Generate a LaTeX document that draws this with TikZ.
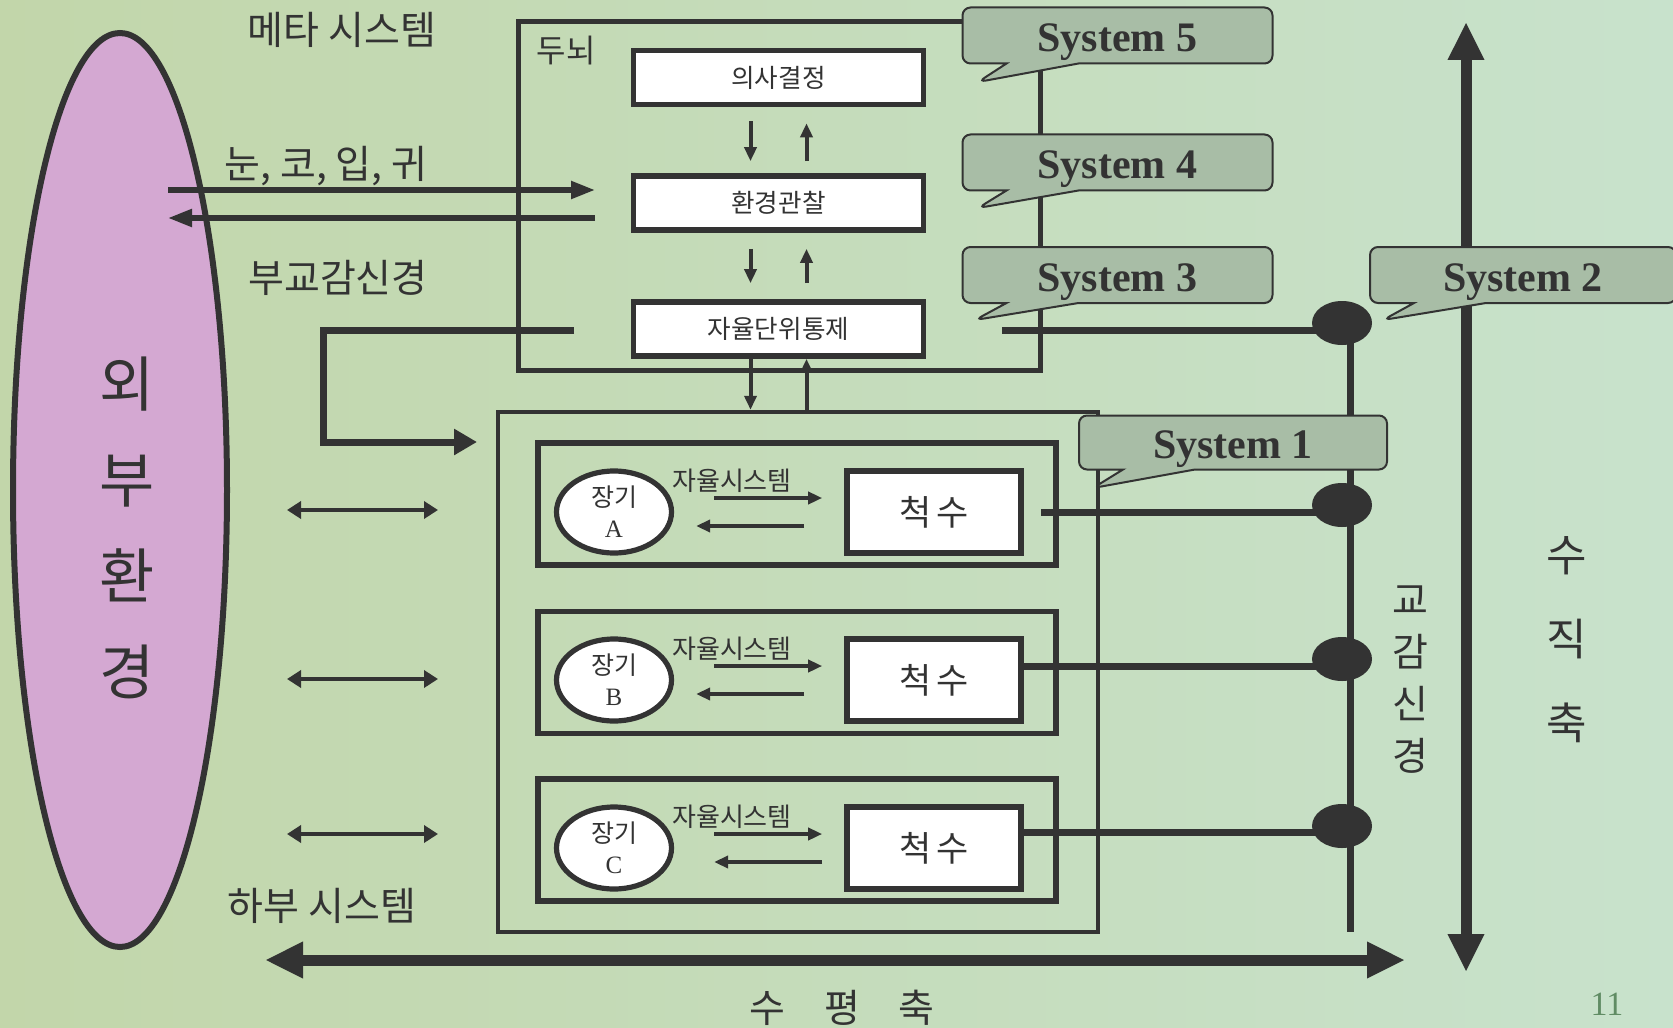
\documentclass[tikz,border=0pt]{standalone}
\usepackage{fontspec}
\setmainfont{Liberation Serif}
\newfontfamily\kr{Noto Sans CJK KR}
\usetikzlibrary{arrows.meta,shapes.geometric,shapes.callouts}
\definecolor{ink}{RGB}{51,51,51}
\definecolor{bgleft}{RGB}{194,214,170}
\definecolor{bgmid}{RGB}{182,216,182}
\definecolor{bgright}{RGB}{200,226,204}
\definecolor{lilac}{RGB}{212,168,210}
\definecolor{sage}{RGB}{168,189,166}
\definecolor{pagenum}{RGB}{96,140,100}

\begin{document}
\begin{tikzpicture}[
    x=0.5pt,
    y=-0.5pt,
    font=\kr,
    frame/.style={draw=ink, line width=2.5pt, inner sep=0pt},
    wbox/.style={draw=ink, line width=2.8pt, fill=white, inner sep=0pt,
        minimum width=145pt, minimum height=27pt, text=ink,
        font=\kr\fontsize{12.8}{14}\selectfont},
    subbox/.style={draw=ink, line width=2.8pt, inner sep=0pt,
        minimum width=259pt, minimum height=61pt},
    organ/.style={ellipse, draw=ink, line width=2.6pt, fill=white, inner sep=0pt,
        minimum width=57.5pt, minimum height=41pt, align=center, text=ink,
        font=\fontsize{12.5}{15.5}\selectfont},
    spine/.style={draw=ink, line width=2.8pt, fill=white, inner sep=0pt,
        minimum width=87pt, minimum height=41pt, text=ink,
        font=\kr\fontsize{17.5}{20}\selectfont},
    dot/.style={ellipse, fill=ink, inner sep=0pt, minimum width=30pt, minimum height=22pt},
    sysbox/.style={rectangle callout, draw=ink, line width=1pt, fill=sage,
        rounded corners=4pt, minimum width=155pt, minimum height=28pt, inner sep=0pt,
        text height=16pt, text depth=0pt,
        callout pointer width=36pt, text=ink, font=\bfseries\fontsize{21}{24}\selectfont},
    txt/.style={text=ink, inner sep=0pt, font=\kr\fontsize{19.5}{22}\selectfont},
    bus/.style={draw=ink, line width=3.5pt},
    axis/.style={draw=ink, line width=5.5pt,
        arrows={Triangle[length=19pt,width=17pt]-Triangle[length=19pt,width=17pt]}},
    sense/.style={draw=ink, line width=2.6pt, arrows={-Triangle[length=12pt,width=8.5pt]}},
    route/.style={draw=ink, line width=3.5pt, arrows={-Triangle[length=11.5pt,width=12.5pt]}},
    small/.style={draw=ink, line width=2pt, arrows={-Triangle[length=7pt,width=6pt]}},
    twoway/.style={draw=ink, line width=2pt,
        arrows={Triangle[length=7pt,width=8.5pt]-Triangle[length=7pt,width=8.5pt]}}
]
\useasboundingbox (0,0) rectangle (1673,1027);
\shade[left color=bgleft, middle color=bgmid, right color=bgright] (0,0) rectangle (1673,1027);

\node[ellipse, draw=ink, line width=3pt, fill=lilac, minimum width=107pt, minimum height=457pt] (ext) at (120,490) {};
\node[txt, align=center, font=\kr\fontsize{30}{48}\selectfont] (extlbl) at (127,528) {외\\부\\환\\경};

\node[txt] (meta) at (342,30) {메타 시스템};
\node[txt] (organs) at (326,166) {눈, 코, 입, 귀};
\node[txt] (para) at (338,278) {부교감신경};
\node[txt] (lower) at (322,906) {하부 시스템};
\node[txt] (haxis) at (842,1008) {수\quad 평\quad 축};
\node[txt, align=center, font=\kr\fontsize{19.5}{26}\selectfont] (symp) at (1410,680) {교\\감\\신\\경};
\node[txt, align=center, font=\kr\fontsize{22}{42}\selectfont] (vaxis) at (1567,640) {수\\직\\축};
\node[text=pagenum, inner sep=0pt, font=\fontsize{17}{20}\selectfont] (pgno) at (1607,1004) {11};

\coordinate (hl) at (265,960);
\coordinate (hr) at (1405,960);
\draw[axis] (hl) -- (hr);
\coordinate (vt) at (1466,22);
\coordinate (vb) at (1466,972);
\draw[axis] (vb) -- (vt);

\node[frame, minimum width=261pt, minimum height=174pt] (brain) at (779,196) {};
\node[txt, font=\kr\fontsize{16}{18}\selectfont] (brainlbl) at (566,51) {두뇌};
\node[wbox] (dec) at (778.5,77.5) {의사결정};
\node[wbox] (obs) at (778.5,203) {환경관찰};
\node[wbox] (ctrl) at (778.5,329) {자율단위통제};

\draw[small, shorten <=7pt, shorten >=6pt] ([xshift=-14pt]dec.south) -- ([xshift=-14pt]obs.north);
\draw[small, shorten <=6pt, shorten >=8pt] ([xshift=14pt]obs.north) -- ([xshift=14pt]dec.south);
\draw[small, shorten <=8pt, shorten >=8pt] ([xshift=-14pt]obs.south) -- ([xshift=-14pt]ctrl.north);
\draw[small, shorten <=8pt, shorten >=8pt] ([xshift=14pt]ctrl.north) -- ([xshift=14pt]obs.south);

\coordinate (eyeA) at (168,190);
\coordinate (eyeB) at (595,190);
\draw[sense] (eyeA) -- (eyeB);
\coordinate (eyeC) at (595,218);
\coordinate (eyeD) at (168,218);
\draw[sense] (eyeC) -- (eyeD);

\coordinate (psn) at (574,330);
\coordinate (psnend) at (477,442);
\draw[route] (psn) -- ++(-251,0) |- (psnend);

\node[frame, line width=2.2pt, minimum width=300pt, minimum height=260pt] (grp) at (798,672) {};
\coordinate (cdn) at ([xshift=-14pt]ctrl.south);
\coordinate (cup) at ([xshift=14pt]ctrl.south);
\draw[small] (cdn) -- (cdn |- grp.north);
\draw[small] (cup |- grp.north) -- (cup);

\node[subbox] (subA) at (797,504) {};
\node[organ] (orgA) at (614,512) {{\kr 장기}\\A};
\node[spine] (spA) at (934,512) {척\hspace{2pt}수};
\node[txt, font=\kr\fontsize{13}{14}\selectfont] (autoA) at (732,481) {자율시스템};
\draw[small, shorten <=20pt, shorten >=11pt] ([yshift=7pt]orgA.east) -- ([yshift=7pt]spA.west);
\draw[small, shorten <=20pt, shorten >=11pt] ([yshift=-7pt]spA.west) -- ([yshift=-7pt]orgA.east);

\node[subbox] (subB) at (797,672.5) {};
\node[organ] (orgB) at (614,680) {{\kr 장기}\\B};
\node[spine] (spB) at (934,680) {척\hspace{2pt}수};
\node[txt, font=\kr\fontsize{13}{14}\selectfont] (autoB) at (732,649) {자율시스템};
\draw[small, shorten <=20pt, shorten >=11pt] ([yshift=7pt]orgB.east) -- ([yshift=7pt]spB.west);
\draw[small, shorten <=20pt, shorten >=11pt] ([yshift=-7pt]spB.west) -- ([yshift=-7pt]orgB.east);

\node[subbox] (subC) at (797,840) {};
\node[organ] (orgC) at (614,848) {{\kr 장기}\\C};
\node[spine] (spC) at (934,848) {척\hspace{2pt}수};
\node[txt, font=\kr\fontsize{13}{14}\selectfont] (autoC) at (732,817) {자율시스템};
\draw[small, shorten <=20pt, shorten >=11pt] ([yshift=7pt]orgC.east) -- ([yshift=7pt]spC.west);
\draw[small, shorten <=11pt, shorten >=20pt] ([yshift=-7pt]spC.west) -- ([yshift=-7pt]orgC.east);

\coordinate (lA) at (287,510);
\coordinate (rA) at (438,510);
\draw[twoway] (lA) -- (rA);
\coordinate (lB) at (287,679);
\coordinate (rB) at (438,679);
\draw[twoway] (lB) -- (rB);
\coordinate (lC) at (287,834);
\coordinate (rC) at (438,834);
\draw[twoway] (lC) -- (rC);

\node[dot] (d3) at (1342,323) {};
\node[dot] (dA) at (1342,505) {};
\node[dot] (dB) at (1342,659) {};
\node[dot] (dC) at (1342,826) {};
\coordinate (busend) at (1350,932);
\draw[bus] (d3.center -| busend) -- (busend);

\coordinate (s3out) at (1002,330);
\draw[bus] (s3out) -- (s3out -| d3);
\coordinate (aout) at (1041,512);
\draw[bus] (aout) -- (aout -| dA);
\coordinate (bout) at ([yshift=7pt]spB.east);
\draw[bus] (bout) -- (bout -| dB);
\coordinate (cout) at ([yshift=8pt]spC.east);
\draw[bus] (cout) -- (cout -| dC);

\node[sysbox, callout absolute pointer={(978,82)}] (sys5) at (1117.5,35.5) {System 5};
\node[sysbox, callout absolute pointer={(978,208)}] (sys4) at (1117.5,162.5) {System 4};
\node[sysbox, callout absolute pointer={(975,320)}] (sys3) at (1117.5,275) {System 3};
\node[sysbox, minimum width=153pt, callout absolute pointer={(1383,320)}] (sys2) at (1523,275) {System 2};
\node[sysbox, minimum width=154pt, minimum height=27pt, callout absolute pointer={(1093,488)}] (sys1) at (1233,442.5) {System 1};
\end{tikzpicture}
\end{document}
